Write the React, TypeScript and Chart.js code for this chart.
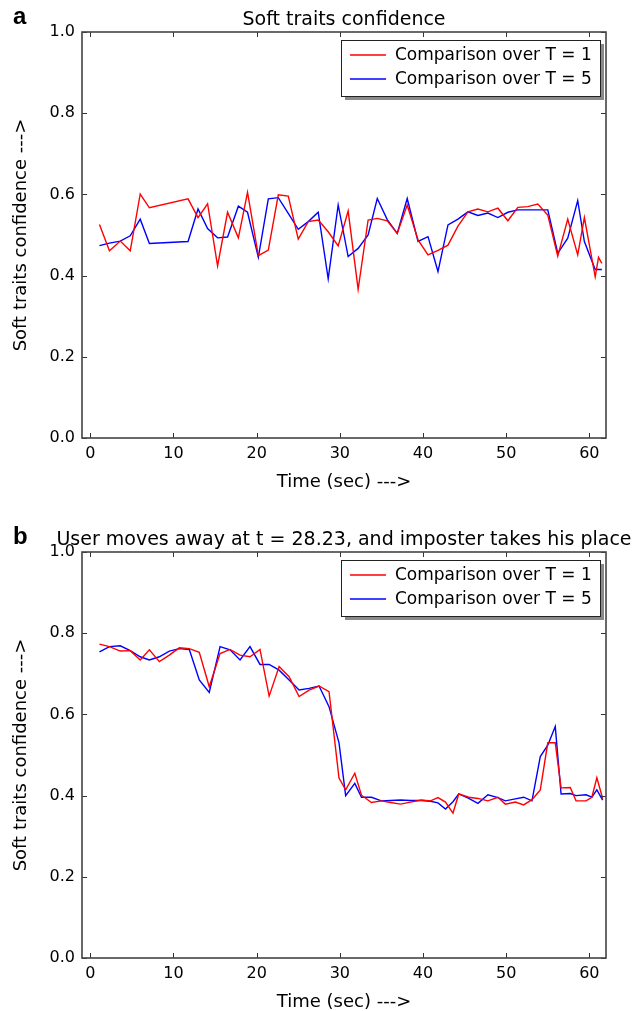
import React, { useEffect, useRef } from "react";
import { Chart, registerables } from "chart.js";

Chart.register(...registerables);

// ---------- data ----------
const timeA = [1.1, 2.3, 3.6, 4.8, 6.0, 7.1, 11.75, 12.95, 14.1, 15.3, 16.5, 17.8, 18.9, 20.2, 21.4, 22.6, 23.8, 25.0, 26.2, 27.4, 28.6, 29.8, 31.0, 32.2, 33.4, 34.5, 35.7, 36.9, 38.1, 39.4, 40.6, 41.8, 43.0, 44.2, 45.4, 46.6, 47.8, 49.0, 50.2, 51.4, 52.6, 53.8, 55.0, 56.2, 57.4, 58.6, 59.4, 60.7, 61.1, 61.5];
const redA = [0.526, 0.461, 0.485, 0.461, 0.601, 0.567, 0.589, 0.543, 0.577, 0.424, 0.556, 0.493, 0.605, 0.449, 0.463, 0.599, 0.596, 0.49, 0.533, 0.537, 0.508, 0.473, 0.559, 0.366, 0.537, 0.541, 0.535, 0.504, 0.574, 0.488, 0.451, 0.462, 0.475, 0.522, 0.557, 0.564, 0.557, 0.566, 0.535, 0.568, 0.57, 0.576, 0.549, 0.448, 0.539, 0.451, 0.543, 0.397, 0.445, 0.43];
const blueA = [0.474, 0.48, 0.485, 0.498, 0.539, 0.479, 0.484, 0.564, 0.516, 0.493, 0.495, 0.571, 0.556, 0.445, 0.589, 0.592, 0.553, 0.514, 0.533, 0.556, 0.392, 0.574, 0.447, 0.467, 0.5, 0.59, 0.538, 0.504, 0.59, 0.484, 0.496, 0.41, 0.525, 0.539, 0.557, 0.548, 0.554, 0.543, 0.556, 0.562, 0.562, 0.562, 0.562, 0.455, 0.492, 0.585, 0.484, 0.415, 0.415, 0.415];

const timeB = [1.1, 2.3, 3.6, 4.8, 6.0, 7.1, 8.3, 9.5, 10.7, 11.9, 13.1, 14.3, 15.6, 16.8, 18.0, 19.2, 20.4, 21.5, 22.7, 23.9, 25.1, 26.3, 27.5, 28.7, 29.9, 30.7, 31.8, 32.6, 33.8, 35.0, 36.1, 37.3, 38.5, 39.8, 40.9, 41.8, 42.7, 43.6, 44.3, 45.5, 46.6, 47.8, 49.0, 49.9, 51.1, 52.1, 53.1, 54.1, 55.0, 55.9, 56.6, 57.7, 58.4, 59.6, 60.3, 60.9, 61.6];
const redB = [0.773, 0.767, 0.756, 0.757, 0.734, 0.759, 0.73, 0.746, 0.764, 0.762, 0.753, 0.668, 0.75, 0.76, 0.746, 0.742, 0.76, 0.645, 0.718, 0.693, 0.644, 0.66, 0.67, 0.656, 0.443, 0.414, 0.455, 0.401, 0.383, 0.387, 0.383, 0.379, 0.384, 0.389, 0.387, 0.395, 0.384, 0.357, 0.404, 0.396, 0.393, 0.387, 0.396, 0.379, 0.384, 0.377, 0.39, 0.414, 0.53, 0.53, 0.419, 0.42, 0.387, 0.387, 0.396, 0.444, 0.393];
const blueB = [0.754, 0.767, 0.769, 0.757, 0.742, 0.734, 0.742, 0.756, 0.762, 0.76, 0.685, 0.654, 0.767, 0.759, 0.734, 0.767, 0.723, 0.723, 0.709, 0.685, 0.66, 0.664, 0.67, 0.619, 0.53, 0.4, 0.43, 0.396, 0.396, 0.387, 0.388, 0.389, 0.388, 0.388, 0.386, 0.382, 0.367, 0.385, 0.404, 0.393, 0.381, 0.402, 0.395, 0.387, 0.392, 0.396, 0.387, 0.496, 0.524, 0.57, 0.404, 0.405, 0.4, 0.402, 0.396, 0.414, 0.389];

const xTicks = [0, 10, 20, 30, 40, 50, 60];
const yTicks = [0, 0.2, 0.4, 0.6, 0.8, 1.0];
const seriesLabels = ["Comparison over T = 1", "Comparison over T = 5"];
const seriesColors = ["#ff0000", "#0000ff"];
const titleA = "Soft traits confidence";
const titleB = "User moves away at t = 28.23, and imposter takes his place";
const xLabel = "Time (sec) --->";
const yLabel = "Soft traits confidence --->";

const FONT = "'DejaVu Sans', sans-serif";

const framePlugin = {
  id: "frame",
  afterDraw(chart: any, _args: any, opts: any) {
    const { ctx, chartArea: a, scales } = chart;
    ctx.save();
    ctx.strokeStyle = "#333";
    ctx.lineWidth = 1;
    const L = 5;
    const seg = (x1: number, y1: number, x2: number, y2: number) => {
      ctx.beginPath();
      ctx.moveTo(x1, y1);
      ctx.lineTo(x2, y2);
      ctx.stroke();
    };
    scales.x.ticks.forEach((t: any) => {
      const px = Math.round(scales.x.getPixelForValue(t.value)) + 0.5;
      seg(px, a.bottom, px, a.bottom - L);
      seg(px, a.top, px, a.top + L);
    });
    scales.y.ticks.forEach((t: any) => {
      const py = Math.round(scales.y.getPixelForValue(t.value)) + 0.5;
      seg(a.left, py, a.left + L, py);
      seg(a.right, py, a.right - L, py);
    });
    ctx.strokeStyle = "#444";
    ctx.lineWidth = 1.6;
    ctx.strokeRect(a.left, a.top, a.right - a.left, a.bottom - a.top);

    // legend
    const w = 259;
    const h = 56;
    const lx = a.right - 6 - w;
    const ly = a.top + 8;
    ctx.fillStyle = "#8a8a8a";
    ctx.fillRect(lx + 4, ly + 4, w, h);
    ctx.fillStyle = "#fff";
    ctx.fillRect(lx, ly, w, h);
    ctx.strokeStyle = "#222";
    ctx.lineWidth = 1;
    ctx.strokeRect(lx + 0.5, ly + 0.5, w, h);
    ctx.font = `17px ${FONT}`;
    ctx.textAlign = "left";
    ctx.textBaseline = "middle";
    chart.data.datasets.forEach((ds: any, i: number) => {
      const cy = ly + 15 + i * 24;
      ctx.strokeStyle = ds.borderColor;
      ctx.lineWidth = 1.4;
      seg(lx + 9, cy, lx + 45, cy);
      ctx.fillStyle = "#000";
      ctx.fillText(ds.label, lx + 54, cy + 1);
    });

    // title and panel letter
    ctx.fillStyle = "#000";
    ctx.font = `19px ${FONT}`;
    ctx.textAlign = "center";
    ctx.textBaseline = "alphabetic";
    ctx.fillText(opts.title, (a.left + a.right) / 2, a.top - 7);
    ctx.font = `bold 24px 'Liberation Sans', sans-serif`;
    ctx.textAlign = "left";
    ctx.fillText(opts.letter, 13, a.top - 8);
    ctx.restore();
  },
};

type PanelProps = {
  times: number[];
  red: number[];
  blue: number[];
  title: string;
  letter: string;
  top: number;
};

function Panel({ times, red, blue, title, letter, top }: PanelProps) {
  const ref = useRef<HTMLCanvasElement>(null);
  useEffect(() => {
    if (!ref.current) return;
    const tickFont = { family: FONT, size: 16 };
    const labelFont = { family: FONT, size: 18 };
    const chart = new Chart(ref.current, {
      type: "line",
      data: {
        datasets: [red, blue].map((vals, i) => ({
          label: seriesLabels[i],
          data: times.map((t, j) => ({ x: t, y: vals[j] })),
          borderColor: seriesColors[i],
          backgroundColor: seriesColors[i],
          borderWidth: 1.4,
          pointRadius: 0,
          fill: false,
          tension: 0,
        })),
      },
      options: {
        responsive: false,
        animation: false,
        devicePixelRatio: 1,
        layout: { padding: { top: 32, right: 30, left: 0, bottom: 0 } },
        plugins: {
          legend: { display: false },
          tooltip: { enabled: false },
          title: { display: false },
          frame: { title, letter },
        } as any,
        scales: {
          x: {
            type: "linear",
            min: -1,
            max: 62,
            afterBuildTicks: (s: any) => {
              s.ticks = xTicks.map((v) => ({ value: v }));
            },
            afterFit: (s: any) => {
              s.height = 82;
            },
            grid: { display: false, drawTicks: false },
            border: { display: false },
            ticks: {
              padding: 6,
              color: "#000",
              font: tickFont,
              maxRotation: 0,
              autoSkip: false,
              callback: (v: any) => String(v),
            },
            title: {
              display: true,
              text: xLabel,
              color: "#000",
              font: labelFont,
              padding: { top: 0, bottom: 27 },
            },
          },
          y: {
            type: "linear",
            min: 0,
            max: 1,
            afterBuildTicks: (s: any) => {
              s.ticks = yTicks.map((v) => ({ value: v }));
            },
            afterFit: (s: any) => {
              s.width = 82;
            },
            grid: { display: false, drawTicks: false },
            border: { display: false },
            ticks: {
              padding: 7,
              color: "#000",
              font: tickFont,
              callback: (v: any) => Number(v).toFixed(1),
            },
            title: {
              display: true,
              text: yLabel,
              color: "#000",
              font: labelFont,
              padding: { top: 11, bottom: 0 },
            },
          },
        },
      },
      plugins: [framePlugin],
    } as any);
    return () => chart.destroy();
  }, []);
  return (
    <canvas
      ref={ref}
      width={636}
      height={520}
      style={{ position: "absolute", left: 0, top, width: 636, height: 520 }}
    />
  );
}

export default function App() {
  useEffect(() => {
    document.body.style.margin = "0";
    document.body.style.overflow = "hidden";
  }, []);
  return (
    <div style={{ position: "relative", width: 636, height: 1011, overflow: "hidden", background: "#fff" }}>
      <Panel times={timeA} red={redA} blue={blueA} title={titleA} letter="a" top={0} />
      <Panel times={timeB} red={redB} blue={blueB} title={titleB} letter="b" top={520} />
    </div>
  );
}
